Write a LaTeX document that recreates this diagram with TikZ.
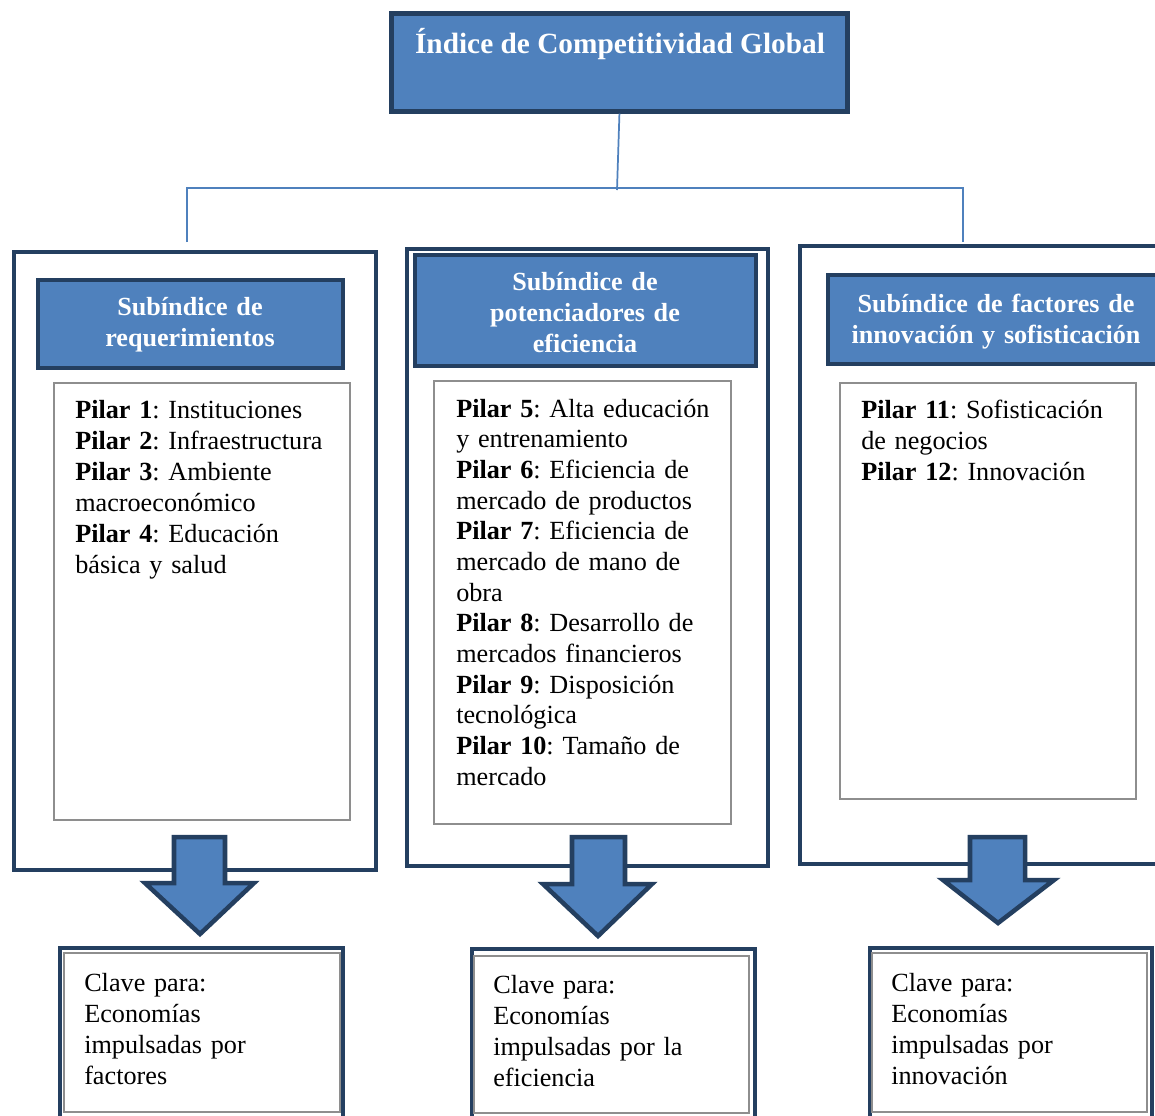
\documentclass[tikz,border=0pt]{standalone}
\usepackage{fontspec}
\setmainfont{Liberation Serif}
\frenchspacing
\definecolor{cblue}{HTML}{4F81BD}
\definecolor{navy}{HTML}{243F60}
\definecolor{greyc}{HTML}{8E8E8E}
\tikzset{
  bluebox/.style={draw=navy, line width=3.6pt, fill=cblue, inner sep=0pt, outer sep=0pt},
  whitebox/.style={draw=navy, line width=3.4pt, fill=white, inner sep=0pt, outer sep=0pt},
  greybox/.style={draw=greyc, line width=1.4pt, fill=white, inner sep=0pt, outer sep=0pt},
  titletext/.style={text=white, font=\bfseries\fontsize{22}{25}\selectfont\frenchspacing, inner sep=0pt},
  hdrtext/.style={text=white, font=\bfseries\fontsize{19.6}{23.25}\selectfont\frenchspacing, align=center, text width=240pt, inner sep=0pt, anchor=base},
  bodytext/.style={font=\fontsize{19.65}{23.25}\selectfont\frenchspacing, align=left, text width=205pt, inner sep=0pt, anchor=base west},
  link/.style={draw=cblue, line width=1.3pt},
  bigarrow/.style={draw=navy, fill=cblue, line width=3.4pt, line join=miter}
}
\begin{document}
\begin{tikzpicture}[x=0.75pt,y=-0.75pt]
\path[use as bounding box, fill=white] (0,0) rectangle (1155,1115);
\clip (0,0) rectangle (1155,1115);

% top box
\node[bluebox, minimum width=342pt, minimum height=73pt] (T) at (619.5,62.5) {};
\node[titletext, anchor=base] (Tt) at (620,53) {Índice de Competitividad Global};

% connectors
\coordinate (hub) at (617,190);
\coordinate (hl) at (187,188);
\coordinate (hr) at (963,188);
\coordinate (dl) at (187,242);
\coordinate (dr) at (963,242);
\draw[link, shorten <=1.8pt] (T.south) -- (hub);
\draw[link] (dl) -- (hl) -- (hr) -- (dr);

% big boxes
\node[whitebox, minimum width=271.5pt, minimum height=463.5pt] (L) at (195,561) {};
\node[whitebox, minimum width=270.75pt, minimum height=462.75pt] (M) at (587.5,557.5) {};
\node[whitebox, minimum width=281.25pt, minimum height=463.5pt] (R) at (987.5,555) {};

% headers
\node[bluebox, minimum width=228.75pt, minimum height=66pt] (LH) at (190.5,324) {};
\node[bluebox, minimum width=255.75pt, minimum height=83.25pt] (MH) at (585.5,310.5) {};
\node[bluebox, minimum width=260.25pt, minimum height=66.75pt] (RH) at (1001.5,319.5) {};
\node[hdrtext] (LHt) at (190,315) {Subíndice de\\requerimientos};
\node[hdrtext] (MHt) at (585,290) {Subíndice de\\potenciadores de\\eficiencia};
\node[hdrtext] (RHt) at (996,312) {Subíndice de factores de\\innovación y sofisticación};

% inner pillar boxes
\node[greybox, minimum width=222pt, minimum height=327.75pt] (LI) at (202,601.5) {};
\node[greybox, minimum width=222.75pt, minimum height=332.25pt] (MI) at (582.5,602.5) {};
\node[greybox, minimum width=222pt, minimum height=312pt] (RI) at (988,591) {};

\node[bodytext] (LIt) at (75,418) {\textbf{Pilar 1}: Instituciones\\\textbf{Pilar 2}: Infraestructura\\\textbf{Pilar 3}: Ambiente\\macroeconómico\\\textbf{Pilar 4}: Educación\\básica y salud};
\node[bodytext, font=\fontsize{19.65}{23}\selectfont\frenchspacing] (MIt) at (456,417) {\textbf{Pilar 5}: Alta educación\\y entrenamiento\\\textbf{Pilar 6}: Eficiencia de\\mercado de productos\\\textbf{Pilar 7}: Eficiencia de\\mercado de mano de\\obra\\\textbf{Pilar 8}: Desarrollo de\\mercados financieros\\\textbf{Pilar 9}: Disposición\\tecnológica\\\textbf{Pilar 10}: Tamaño de\\mercado};
\node[bodytext] (RIt) at (861,418) {\textbf{Pilar 11}: Sofisticación\\de negocios\\\textbf{Pilar 12}: Innovación};

% big arrows
\draw[bigarrow] (174,837) -- (225,837) -- (225,883) -- (254,883) -- (200,934) -- (145,883) -- (174,883) -- cycle;
\draw[bigarrow] (572,837) -- (625,837) -- (625,884) -- (652,884) -- (598,936) -- (543,884) -- (572,884) -- cycle;
\draw[bigarrow] (970,837) -- (1025,837) -- (1025,880) -- (1054,880) -- (998,923) -- (943,880) -- (970,880) -- cycle;

% bottom boxes
\node[whitebox, minimum width=212.25pt, minimum height=130.5pt] (BL) at (201.5,1035) {};
\node[whitebox, minimum width=212.25pt, minimum height=129.75pt] (BM) at (613.5,1035.5) {};
\node[whitebox, minimum width=211.5pt, minimum height=130.5pt] (BR) at (1011,1035) {};
\node[greybox, minimum width=207pt, minimum height=119.25pt] (BLi) at (202,1032.5) {};
\node[greybox, minimum width=206.25pt, minimum height=117.75pt] (BMi) at (611.5,1034.5) {};
\node[greybox, minimum width=206.25pt, minimum height=119.25pt] (BRi) at (1009.5,1032.5) {};

\node[bodytext] (BLt) at (84,991) {Clave para:\\Economías\\impulsadas por\\factores};
\node[bodytext] (BMt) at (493,993) {Clave para:\\Economías\\impulsadas por la\\eficiencia};
\node[bodytext] (BRt) at (891,991) {Clave para:\\Economías\\impulsadas por\\innovación};
\end{tikzpicture}
\end{document}
